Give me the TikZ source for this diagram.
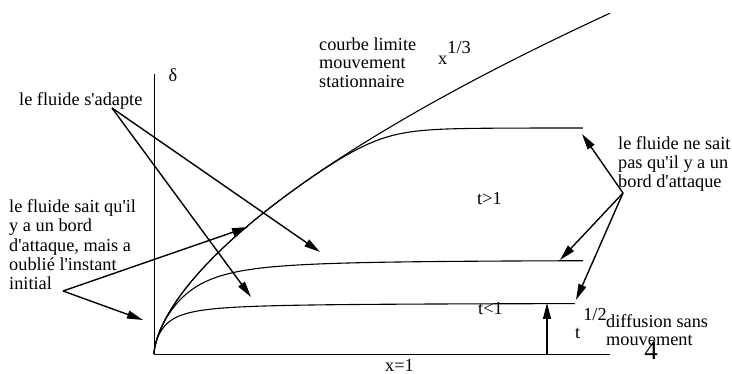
\documentclass[tikz,border=0pt]{standalone}
\usepackage{fontspec}
\newfontfamily\serf{Liberation Serif}
\usetikzlibrary{arrows.meta}
\begin{document}
\begin{tikzpicture}[x=1pt,y=-1pt,
  lbl/.style={inner sep=0pt, font=\serf\fontsize{18.3}{19}\selectfont},
  axisline/.style={line width=0.9pt},
  curveline/.style={line width=1.1pt},
  arr/.style={line width=1.4pt, -{Triangle[length=16pt,width=8pt]}}]
\useasboundingbox (0,0) rectangle (732,374);
% axes
\coordinate (O) at (154,354);
\coordinate (Ytop) at (154,74);
\coordinate (Xend) at (610,354);
\draw[axisline] (Ytop) -- (O) -- (Xend);
% curves
\draw[curveline] (O) -- plot[domain=0.1:21.354, samples=160, variable=\s]
  ({154+\s*\s}, {354-7.75*\s^1.236});
\draw[curveline] (O) -- plot[domain=0.1:20.712, samples=160, variable=\s]
  ({154+\s*\s}, {354-(7.75*\s^1.236)/((1+((7.75*\s^1.236)/226)^18)^(0.0555556))});
\draw[curveline] (O) -- plot[domain=0.1:20.712, samples=160, variable=\s]
  ({154+\s*\s}, {354-(7.75*\s^1.236)/((1+((7.75*\s^1.236)/94)^3)^(0.3333333))});
\draw[curveline] (O) -- plot[domain=0.1:20.518, samples=160, variable=\s]
  ({154+\s*\s}, {354-(7.75*\s^1.236)/((1+((7.75*\s^1.236)/51)^2)^(0.5))});
% labels
\node[lbl, anchor=base] (delta) at (173,82) {δ};
\node[lbl, anchor=base west] (adapte) at (19,106) {le fluide s'adapte};
\node[lbl, anchor=north west, align=left, font=\serf\fontsize{18.3}{19.25}\selectfont] (sait) at (9,199.5)
  {le fluide sait qu'il\\y a un bord\\d'attaque, mais a\\oublié l'instant\\initial};
\node[lbl, anchor=north west, align=left, font=\serf\fontsize{18.3}{18.5}\selectfont] (limite) at (319,37.5)
  {courbe limite\\mouvement\\stationnaire};
\node[lbl, anchor=base west] (xpow) at (438,65) {x\raisebox{11pt}{1/3}};
\node[lbl, anchor=base west] (tgt) at (477,205) {t>1};
\node[lbl, anchor=base west] (tlt) at (478,315) {t<1};
\node[lbl, anchor=north west, align=left] (nesait) at (618,136.5)
  {le fluide ne sait\\pas qu'il y a un\\bord d'attaque};
\node[lbl, anchor=base west] (tpow) at (575,339) {t\kern3pt\raisebox{18pt}{1/2}};
\node[lbl, anchor=north west, align=left, font=\serf\fontsize{18.3}{18}\selectfont] (diff) at (606,314.5)
  {diffusion sans\\mouvement};
\node[inner sep=0pt, font=\serf\fontsize{27}{30}\selectfont, anchor=base] (four) at (651,360) {4};
\node[lbl, anchor=base west] (xone) at (385,371.5) {x=1};
% arrows
\coordinate (a0) at (112,108);
\coordinate (a1) at (320,252);
\coordinate (a2) at (251,297);
\coordinate (s0) at (63,291);
\coordinate (s1) at (248,227);
\coordinate (s2) at (143,320);
\coordinate (n0) at (623,193);
\coordinate (n1) at (582,134);
\coordinate (n2) at (560,260);
\coordinate (n3) at (576,300);
\coordinate (d0) at (547,354);
\coordinate (d1) at (547,303);
\draw[arr] (a0) -- (a1);
\draw[arr] (a0) -- (a2);
\draw[arr] (s0) -- (s1);
\draw[arr] (s0) -- (s2);
\draw[arr] (n0) -- (n1);
\draw[arr] (n0) -- (n2);
\draw[arr] (n0) -- (n3);
\draw[arr] (d0) -- (d1);
\end{tikzpicture}
\end{document}
